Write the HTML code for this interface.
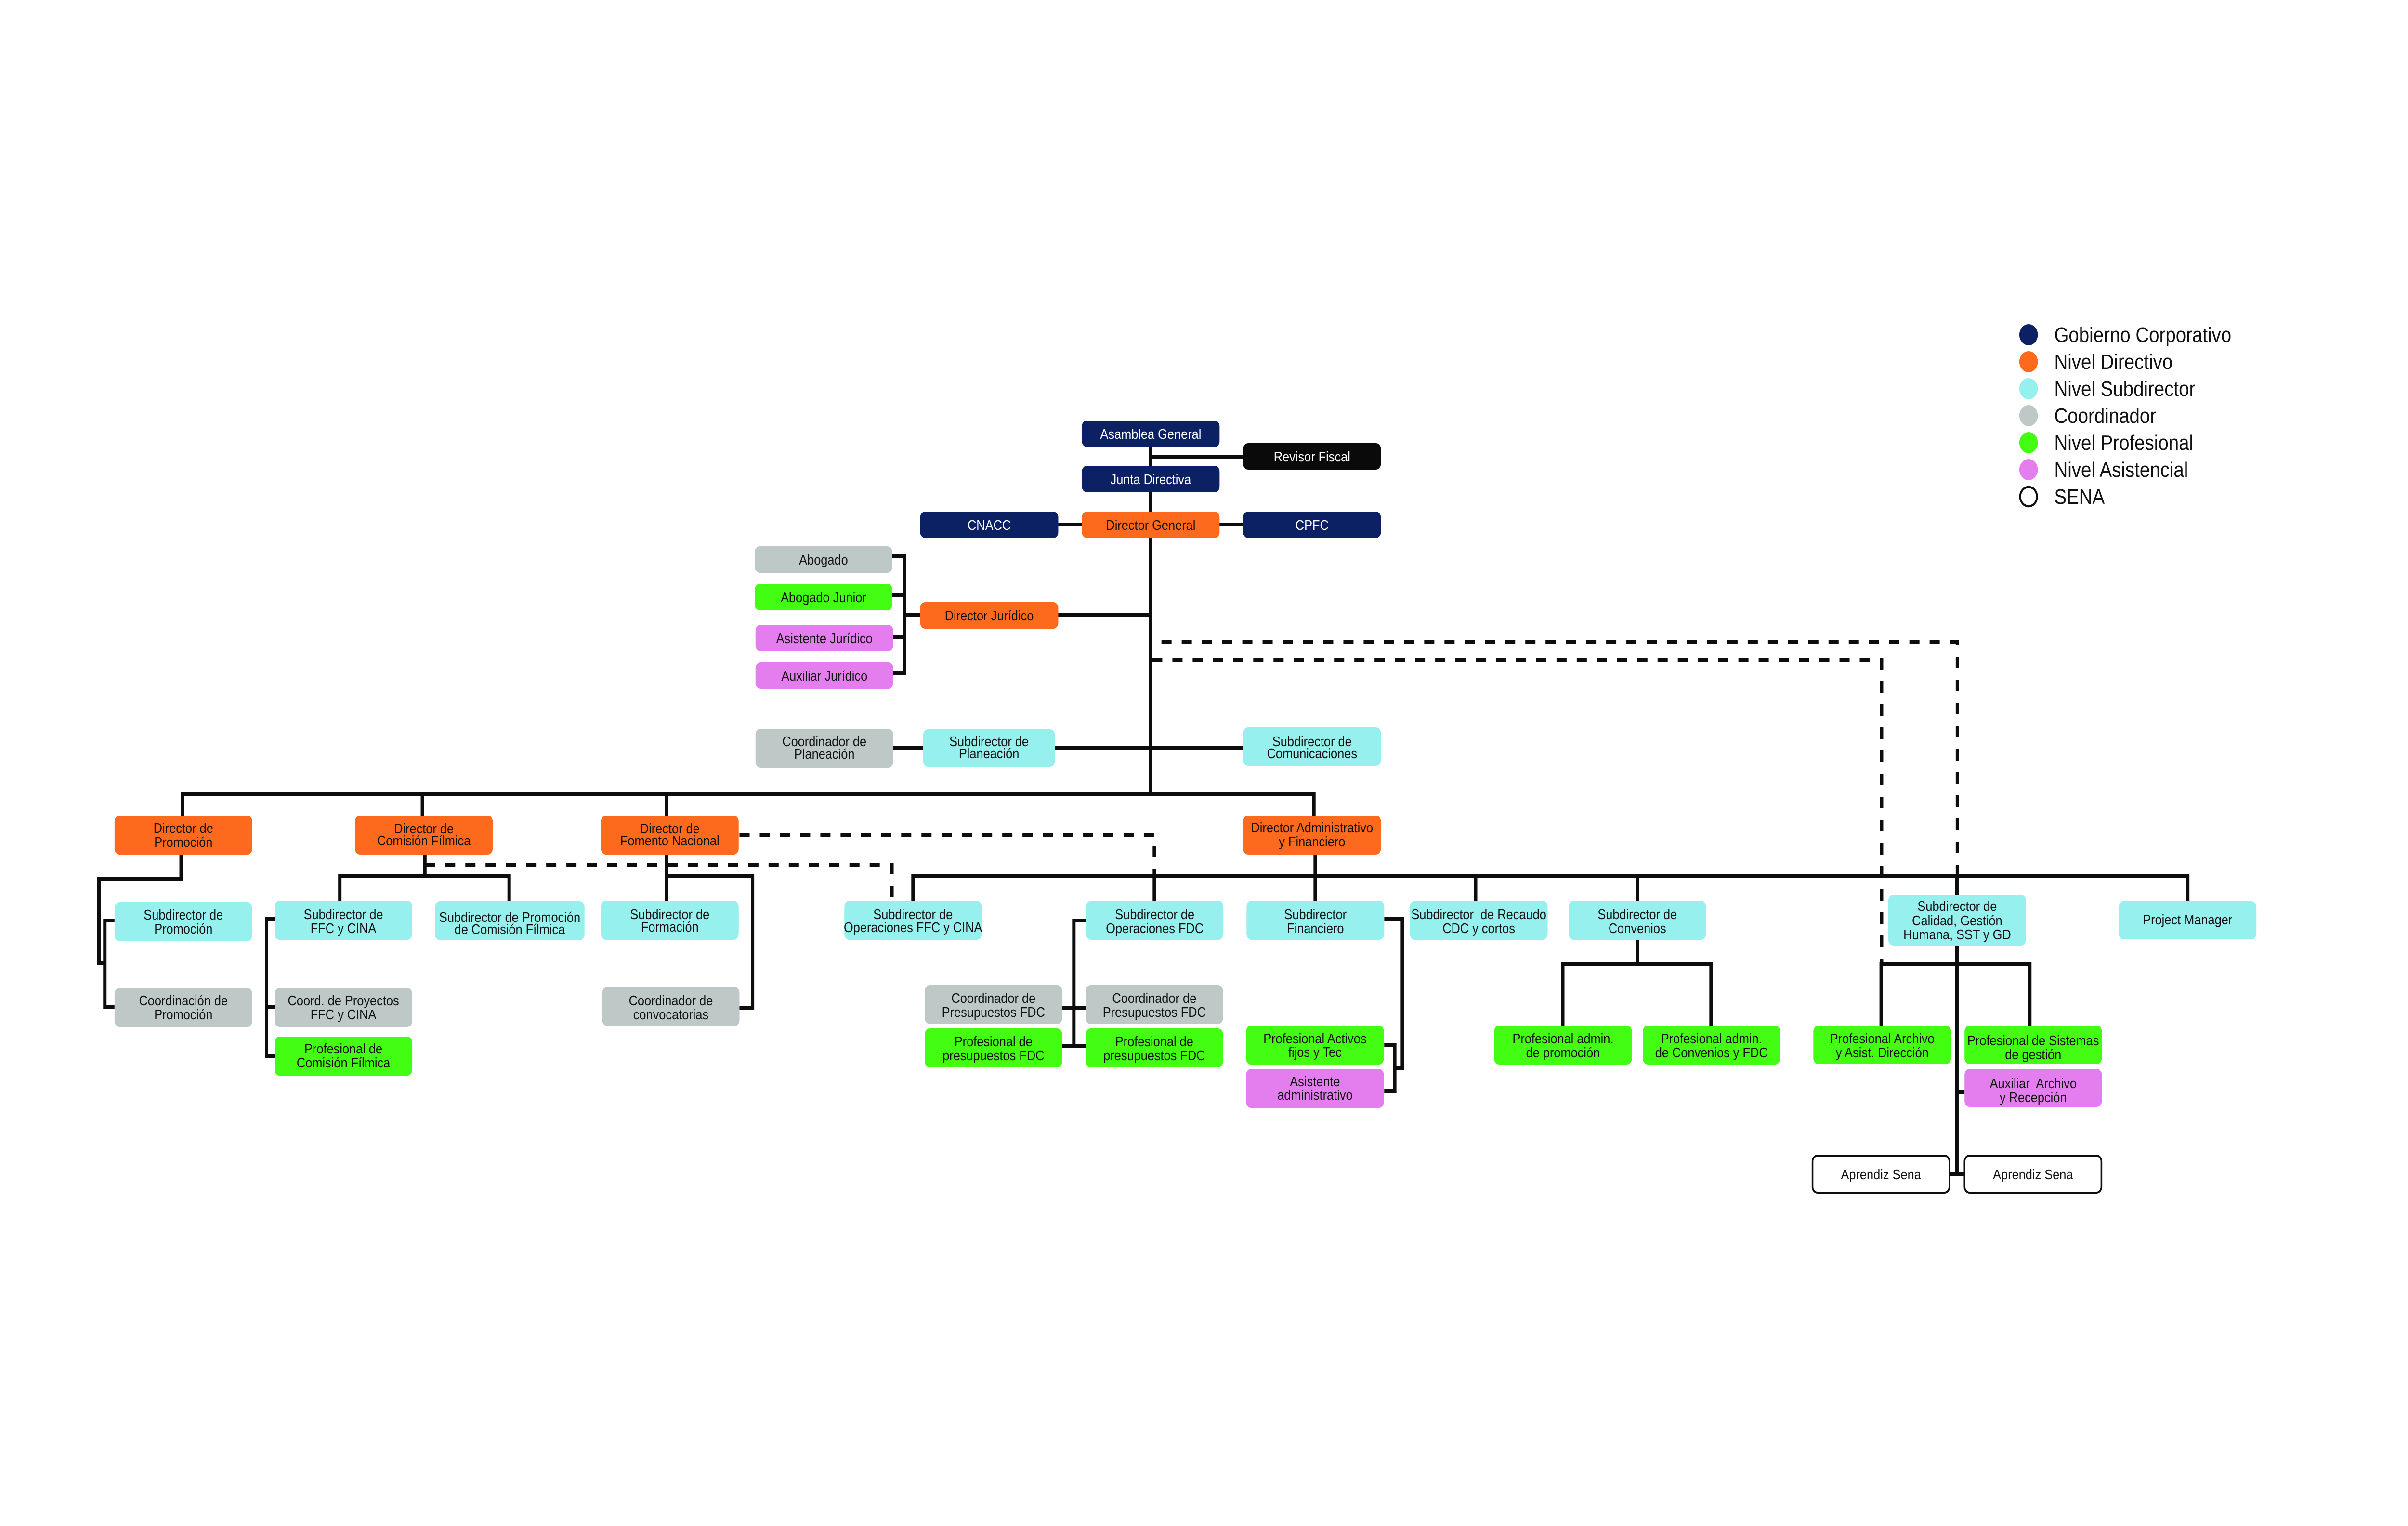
<!DOCTYPE html>
<html>
<head>
<meta charset="utf-8">
<style>
html,body{margin:0;padding:0;background:#ffffff;width:100%;height:100%;overflow:hidden;}
svg{display:block;width:100vw;height:100vh;}
</style>
</head>
<body>
<svg xmlns="http://www.w3.org/2000/svg" viewBox="0 0 5718 3168" preserveAspectRatio="none">
<rect x="0" y="0" width="5718" height="3168" fill="#ffffff"/>

<!-- solid connectors -->
<g fill="none" stroke="#0d0d0d" stroke-width="8" stroke-linecap="butt" stroke-linejoin="miter">
  <path d="M2732 900 V1653"/>
  <path d="M2732 948 H2952"/>
  <path d="M2513 1089 H2952"/>
  <path d="M2119 1155 H2148 V1398 H2119"/>
  <path d="M2119 1235 H2148"/>
  <path d="M2119 1323 H2148"/>
  <path d="M2148 1276 H2732"/>
  <path d="M2120 1553 H2952"/>
  <!-- main bar -->
  <path d="M434 1693 V1649 H3120 V1693"/>
  <path d="M1003 1649 V1693"/>
  <path d="M1583 1649 V1693"/>
  <!-- Promocion -->
  <path d="M430 1774 V1825 H235 V1999 H249"/>
  <path d="M272 1911 H249 V2091 H272"/>
  <!-- Comision -->
  <path d="M1009 1774 V1819"/>
  <path d="M807 1870 V1819 H1209 V1871"/>
  <path d="M652 1907 H633 V2193 H652"/>
  <path d="M633 2091 H652"/>
  <!-- Fomento -->
  <path d="M1583 1774 V1870"/>
  <path d="M1583 1819 H1787 V2092 H1756"/>
  <!-- Admin -->
  <path d="M3123 1774 V1870"/>
  <path d="M2168 1870 V1819 H5195 V1871"/>
  <path d="M2741 1819 V1870"/>
  <path d="M3504 1819 V1870"/>
  <path d="M3888 1819 V1870"/>
  <path d="M4647 1819 V1858"/>
  <!-- Operaciones FDC -->
  <path d="M2579 1911 H2550 V2171"/>
  <path d="M2522 2092 H2578"/>
  <path d="M2522 2171 H2578"/>
  <!-- Financiero -->
  <path d="M3287 1907 H3330 V2218 H3312"/>
  <path d="M3287 2170 H3312 V2265 H3287"/>
  <!-- Convenios -->
  <path d="M3888 1951 V2001"/>
  <path d="M3711 2129 V2001 H4063 V2129"/>
  <!-- Calidad -->
  <path d="M4647 1963 V2438"/>
  <path d="M4467 2129 V2001 H4820 V2129"/>
  <path d="M4647 2267 H4665"/>
  <path d="M4631 2438 H4663"/>
</g>

<!-- dashed connectors -->
<g fill="none" stroke="#0d0d0d" stroke-width="8" stroke-dasharray="24 24">
  <path d="M2758 1333 H4648 V1858"/>
  <path d="M2736 1370 H4468 V2001"/>
  <path d="M1756 1733 H2741 V1819"/>
  <path d="M1009 1796 H2118 V1870"/>
</g>

<!-- boxes -->
<g stroke="none">
  <rect x="2569" y="873" width="327" height="55" rx="12" fill="#0b2163"/>
  <rect x="2952" y="920" width="327" height="55" rx="12" fill="#0a0a0a"/>
  <rect x="2569" y="967" width="327" height="55" rx="12" fill="#0b2163"/>
  <rect x="2185" y="1062" width="328" height="55" rx="12" fill="#0b2163"/>
  <rect x="2569" y="1062" width="327" height="55" rx="12" fill="#fd6a1d"/>
  <rect x="2952" y="1062" width="327" height="55" rx="12" fill="#0b2163"/>
  <rect x="1792" y="1134" width="327" height="55" rx="12" fill="#bdc8c7"/>
  <rect x="1792" y="1212" width="327" height="55" rx="12" fill="#43fd12"/>
  <rect x="2185" y="1250" width="328" height="55" rx="12" fill="#fd6a1d"/>
  <rect x="1794" y="1297" width="327" height="55" rx="12" fill="#e47ded"/>
  <rect x="1794" y="1375" width="327" height="55" rx="12" fill="#e47ded"/>
  <rect x="1794" y="1513" width="327" height="81" rx="12" fill="#bdc8c7"/>
  <rect x="2192" y="1514" width="313" height="78" rx="12" fill="#95f0ee"/>
  <rect x="2952" y="1510" width="327" height="80" rx="12" fill="#95f0ee"/>

  <rect x="272" y="1693" width="327" height="81" rx="12" fill="#fd6a1d"/>
  <rect x="843" y="1693" width="327" height="81" rx="12" fill="#fd6a1d"/>
  <rect x="1427" y="1693" width="327" height="81" rx="12" fill="#fd6a1d"/>
  <rect x="2952" y="1693" width="327" height="81" rx="12" fill="#fd6a1d"/>

  <rect x="272" y="1873" width="327" height="81" rx="12" fill="#95f0ee"/>
  <rect x="652" y="1870" width="327" height="81" rx="12" fill="#95f0ee"/>
  <rect x="1033" y="1871" width="355" height="81" rx="12" fill="#95f0ee"/>
  <rect x="1427" y="1870" width="327" height="81" rx="12" fill="#95f0ee"/>
  <rect x="2005" y="1870" width="326" height="81" rx="12" fill="#95f0ee"/>
  <rect x="2579" y="1870" width="326" height="81" rx="12" fill="#95f0ee"/>
  <rect x="2960" y="1870" width="327" height="81" rx="12" fill="#95f0ee"/>
  <rect x="3348" y="1870" width="327" height="81" rx="12" fill="#95f0ee"/>
  <rect x="3725" y="1870" width="326" height="81" rx="12" fill="#95f0ee"/>
  <rect x="4484" y="1858" width="327" height="105" rx="12" fill="#95f0ee"/>
  <rect x="5031" y="1871" width="327" height="79" rx="12" fill="#95f0ee"/>

  <rect x="272" y="2051" width="327" height="81" rx="12" fill="#bdc8c7"/>
  <rect x="652" y="2051" width="327" height="81" rx="12" fill="#bdc8c7"/>
  <rect x="652" y="2152" width="327" height="81" rx="12" fill="#43fd12"/>
  <rect x="1430" y="2049" width="326" height="81" rx="12" fill="#bdc8c7"/>
  <rect x="2196" y="2045" width="326" height="81" rx="12" fill="#bdc8c7"/>
  <rect x="2578" y="2045" width="326" height="81" rx="12" fill="#bdc8c7"/>
  <rect x="2196" y="2135" width="326" height="81" rx="12" fill="#43fd12"/>
  <rect x="2578" y="2135" width="326" height="81" rx="12" fill="#43fd12"/>
  <rect x="2959" y="2129" width="327" height="81" rx="12" fill="#43fd12"/>
  <rect x="2959" y="2219" width="327" height="81" rx="12" fill="#e47ded"/>
  <rect x="3548" y="2129" width="327" height="81" rx="12" fill="#43fd12"/>
  <rect x="3901" y="2129" width="326" height="81" rx="12" fill="#43fd12"/>
  <rect x="4306" y="2129" width="327" height="80" rx="12" fill="#43fd12"/>
  <rect x="4665" y="2129" width="326" height="80" rx="12" fill="#43fd12"/>
  <rect x="4665" y="2219" width="326" height="79" rx="12" fill="#e47ded"/>
  <rect x="4304" y="2399" width="325" height="77" rx="12" fill="#ffffff" stroke="#0d0d0d" stroke-width="4"/>
  <rect x="4665" y="2399" width="325" height="77" rx="12" fill="#ffffff" stroke="#0d0d0d" stroke-width="4"/>
</g>

<!-- labels -->
<g font-family="'Liberation Sans', Arial, sans-serif" font-size="29" text-anchor="middle" fill="#111111">
  <g fill="#ffffff">
    <text x="2732.5" y="911">Asamblea General</text>
    <text x="3115.5" y="958">Revisor Fiscal</text>
    <text x="2732.5" y="1005">Junta Directiva</text>
    <text x="2349" y="1100">CNACC</text>
    <text x="3115.5" y="1100">CPFC</text>
  </g>
  <text x="2732.5" y="1100">Director General</text>
  <text x="1955.5" y="1172">Abogado</text>
  <text x="1955.5" y="1250">Abogado Junior</text>
  <text x="2349" y="1288">Director Jurídico</text>
  <text x="1957.5" y="1335">Asistente Jurídico</text>
  <text x="1957.5" y="1413">Auxiliar Jurídico</text>
  <text x="1957.5" y="1549">Coordinador de</text>
  <text x="1957.5" y="1575">Planeación</text>
  <text x="2348.5" y="1549">Subdirector de</text>
  <text x="2348.5" y="1574">Planeación</text>
  <text x="3115.5" y="1549">Subdirector de</text>
  <text x="3115.5" y="1574">Comunicaciones</text>

  <text x="435.5" y="1729">Director de</text>
  <text x="435.5" y="1758">Promoción</text>
  <text x="1006.5" y="1730">Director de</text>
  <text x="1006.5" y="1755">Comisión Fílmica</text>
  <text x="1590.5" y="1730">Director de</text>
  <text x="1590.5" y="1755">Fomento Nacional</text>
  <text x="3115.5" y="1728">Director Administrativo</text>
  <text x="3115.5" y="1757">y Financiero</text>

  <text x="435.5" y="1909">Subdirector de</text>
  <text x="435.5" y="1938">Promoción</text>
  <text x="815.5" y="1908">Subdirector de</text>
  <text x="815.5" y="1937">FFC y CINA</text>
  <text x="1210.5" y="1914">Subdirector de Promoción</text>
  <text x="1210.5" y="1939">de Comisión Fílmica</text>
  <text x="1590.5" y="1908">Subdirector de</text>
  <text x="1590.5" y="1934">Formación</text>
  <text x="2168" y="1908">Subdirector de</text>
  <text x="2168" y="1935">Operaciones FFC y CINA</text>
  <text x="2742" y="1908">Subdirector de</text>
  <text x="2742" y="1937">Operaciones FDC</text>
  <text x="3123.5" y="1908">Subdirector</text>
  <text x="3123.5" y="1937">Financiero</text>
  <text x="3511.5" y="1908">Subdirector&#160; de Recaudo</text>
  <text x="3511.5" y="1937">CDC y cortos</text>
  <text x="3888" y="1908">Subdirector de</text>
  <text x="3888" y="1937">Convenios</text>
  <text x="4647.5" y="1891">Subdirector de</text>
  <text x="4647.5" y="1921">Calidad, Gestión</text>
  <text x="4647.5" y="1950">Humana, SST y GD</text>
  <text x="5194.5" y="1919">Project Manager</text>

  <text x="435.5" y="2087">Coordinación de</text>
  <text x="435.5" y="2116">Promoción</text>
  <text x="815.5" y="2087">Coord. de Proyectos</text>
  <text x="815.5" y="2116">FFC y CINA</text>
  <text x="815.5" y="2187">Profesional de</text>
  <text x="815.5" y="2216">Comisión Fílmica</text>
  <text x="1593" y="2087">Coordinador de</text>
  <text x="1593" y="2116">convocatorias</text>
  <text x="2359" y="2082">Coordinador de</text>
  <text x="2359" y="2111">Presupuestos FDC</text>
  <text x="2741" y="2082">Coordinador de</text>
  <text x="2741" y="2111">Presupuestos FDC</text>
  <text x="2359" y="2172">Profesional de</text>
  <text x="2359" y="2201">presupuestos FDC</text>
  <text x="2741" y="2172">Profesional de</text>
  <text x="2741" y="2201">presupuestos FDC</text>
  <text x="3122.5" y="2166">Profesional Activos</text>
  <text x="3122.5" y="2194">fijos y Tec</text>
  <text x="3122.5" y="2255">Asistente</text>
  <text x="3122.5" y="2283">administrativo</text>
  <text x="3711.5" y="2166">Profesional admin.</text>
  <text x="3711.5" y="2195">de promoción</text>
  <text x="4064" y="2166">Profesional admin.</text>
  <text x="4064" y="2195">de Convenios y FDC</text>
  <text x="4469.5" y="2166">Profesional Archivo</text>
  <text x="4469.5" y="2195">y Asist. Dirección</text>
  <text x="4828" y="2170">Profesional de Sistemas</text>
  <text x="4828" y="2199">de gestión</text>
  <text x="4828" y="2259">Auxiliar&#160; Archivo</text>
  <text x="4828" y="2288">y Recepción</text>
  <text x="4466.5" y="2448">Aprendiz Sena</text>
  <text x="4827.5" y="2448">Aprendiz Sena</text>
</g>

<!-- legend -->
<g>
  <circle cx="4817" cy="695" r="22" fill="#0b2163"/>
  <circle cx="4817" cy="751" r="22" fill="#fd6a1d"/>
  <circle cx="4817" cy="807" r="22" fill="#95f0ee"/>
  <circle cx="4817" cy="863" r="22" fill="#bdc8c7"/>
  <circle cx="4817" cy="919" r="22" fill="#43fd12"/>
  <circle cx="4817" cy="975" r="22" fill="#e47ded"/>
  <circle cx="4817" cy="1031" r="20" fill="#ffffff" stroke="#0d0d0d" stroke-width="4.5"/>
</g>
<g font-family="'Liberation Sans', Arial, sans-serif" font-size="44" fill="#111111">
  <text x="4878" y="710">Gobierno Corporativo</text>
  <text x="4878" y="766">Nivel Directivo</text>
  <text x="4878" y="822">Nivel Subdirector</text>
  <text x="4878" y="878">Coordinador</text>
  <text x="4878" y="934">Nivel Profesional</text>
  <text x="4878" y="990">Nivel Asistencial</text>
  <text x="4878" y="1046">SENA</text>
</g>
</svg>
</body>
</html>
